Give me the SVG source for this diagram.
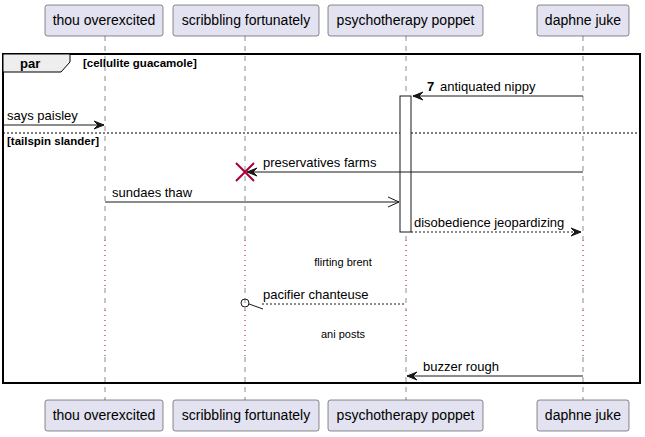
<svg xmlns="http://www.w3.org/2000/svg" width="645" height="437" viewBox="0 0 645 437">
<style>
.pbox{fill:#E2E2F0;stroke:#181818;stroke-width:0.5}
.ptxt{font-family:"Liberation Sans",Arial,sans-serif;font-size:14px;fill:#000}
.life{stroke:#181818;stroke-width:0.5;stroke-dasharray:5,5;fill:none}
.delay{stroke:#A80036;stroke-width:1;stroke-dasharray:1,4;fill:none}
.msg{stroke:#181818;stroke-width:1;fill:none}
.dash{stroke:#181818;stroke-width:1;stroke-dasharray:2,2;fill:none}
.mtxt{font-family:"Liberation Sans",Arial,sans-serif;font-size:13px;fill:#000}
.bold{font-family:"Liberation Sans",Arial,sans-serif;font-weight:bold;fill:#000}
.small{font-family:"Liberation Sans",Arial,sans-serif;font-size:11px;fill:#000}
.head{fill:#181818;stroke:#181818;stroke-width:1}
</style>
<g id="lifelines">
<g id="life-thou">
<path class="life" d="M105,36V240M105,288V310M105,357V400"/>
<path class="delay" d="M105,240V288M105,310V357"/>
</g>
<g id="life-scribbling">
<path class="life" d="M245,36V240M245,288V310M245,357V400"/>
<path class="delay" d="M245,240V288M245,310V357"/>
</g>
<g id="life-psycho">
<path class="life" d="M406,36V240M406,288V310M406,357V400"/>
<path class="delay" d="M406,240V288M406,310V357"/>
</g>
<g id="life-daphne">
<path class="life" d="M583,36V240M583,288V310M583,357V400"/>
<path class="delay" d="M583,240V288M583,310V357"/>
</g>
</g>
<g id="frame">
<rect x="3" y="54" width="637" height="329" fill="none" stroke="#000" stroke-width="2"/>
<polygon points="3,54 70,54 70,62 61,72 3,72" fill="#EEEEEE" stroke="#000" stroke-width="1"/>
<text class="bold" x="20" y="68" font-size="13">par</text>
<text class="bold" x="83" y="67" font-size="11.5">[cellulite guacamole]</text>
<line x1="3" y1="133" x2="640" y2="133" stroke="#000" stroke-width="1" stroke-dasharray="2,2"/>
<text class="bold" x="7" y="145" font-size="11.5">[tailspin slander]</text>
</g>
<g id="activation">
<rect x="400" y="96" width="11" height="136" fill="#FFFFFF" stroke="#181818" stroke-width="1"/>
</g>
<g id="connectors">
<g id="m1">
<line class="msg" x1="583" y1="96" x2="413" y2="96"/>
<polygon class="head" points="423,92 413,96 423,100 419,96"/>
<text class="bold" x="427" y="91" font-size="13">7</text>
<text class="mtxt" x="440" y="91">antiquated nippy</text>
</g>
<g id="m2">
<line class="msg" x1="3" y1="125" x2="104" y2="125"/>
<polygon class="head" points="94,121 104,125 94,129 98,125"/>
<text class="mtxt" x="7" y="120">says paisley</text>
</g>
<g id="m3">
<line class="msg" x1="583" y1="172" x2="247" y2="172"/>
<polygon class="head" points="257,168 247,172 257,176 253,172"/>
<path d="M236,163L254,181M236,181L254,163" stroke="#A80036" stroke-width="2" fill="none"/>
<text class="mtxt" x="263" y="167">preservatives farms</text>
</g>
<g id="m4">
<line class="msg" x1="105" y1="202" x2="399" y2="202"/>
<path class="msg" d="M388,197L399,202L388,207"/>
<text class="mtxt" x="112" y="197">sundaes thaw</text>
</g>
<g id="m5">
<line class="dash" x1="411" y1="232" x2="581" y2="232"/>
<polygon class="head" points="571,228 581,232 571,236 575,232"/>
<text class="mtxt" x="414" y="227">disobedience jeopardizing</text>
</g>
<text class="small" x="343" y="266" text-anchor="middle">flirting brent</text>
<g id="m6">
<line class="dash" x1="262" y1="304" x2="406" y2="304"/>
<circle cx="245" cy="303" r="4" fill="none" stroke="#181818" stroke-width="1"/>
<line class="msg" x1="249" y1="304" x2="263" y2="309"/>
<text class="mtxt" x="263" y="299">pacifier chanteuse</text>
</g>
<text class="small" x="343" y="338" text-anchor="middle">ani posts</text>
<g id="m7">
<line class="msg" x1="583" y1="376" x2="407" y2="376"/>
<polygon class="head" points="417,372 407,376 417,380 413,376"/>
<text class="mtxt" x="423" y="371">buzzer rough</text>
</g>
</g>
<g id="p-thou">
<rect class="pbox" x="45" y="5" width="118" height="31" rx="2.5"/>
<text class="ptxt" x="104" y="25" text-anchor="middle">thou overexcited</text>
<rect class="pbox" x="45" y="400" width="118" height="31" rx="2.5"/>
<text class="ptxt" x="104" y="420" text-anchor="middle">thou overexcited</text>
</g>
<g id="p-scribbling">
<rect class="pbox" x="173" y="5" width="146" height="31" rx="2.5"/>
<text class="ptxt" x="246" y="25" text-anchor="middle">scribbling fortunately</text>
<rect class="pbox" x="173" y="400" width="146" height="31" rx="2.5"/>
<text class="ptxt" x="246" y="420" text-anchor="middle">scribbling fortunately</text>
</g>
<g id="p-psycho">
<rect class="pbox" x="328" y="5" width="155" height="31" rx="2.5"/>
<text class="ptxt" x="405.5" y="25" text-anchor="middle">psychotherapy poppet</text>
<rect class="pbox" x="328" y="400" width="155" height="31" rx="2.5"/>
<text class="ptxt" x="405.5" y="420" text-anchor="middle">psychotherapy poppet</text>
</g>
<g id="p-daphne">
<rect class="pbox" x="537" y="5" width="92" height="31" rx="2.5"/>
<text class="ptxt" x="583" y="25" text-anchor="middle">daphne juke</text>
<rect class="pbox" x="537" y="400" width="92" height="31" rx="2.5"/>
<text class="ptxt" x="583" y="420" text-anchor="middle">daphne juke</text>
</g>
</svg>
